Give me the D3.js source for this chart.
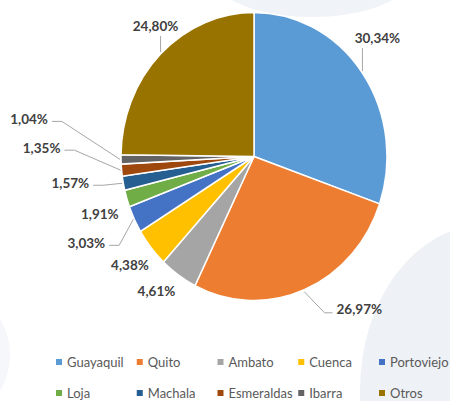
<!DOCTYPE html>
<html>
<head>
<meta charset="utf-8">
<script src="https://cdn.jsdelivr.net/npm/d3@7"></script>
<style>
  body { margin: 0; background: #fff; }
  svg { display: block; font-family: Lato, "Open Sans", sans-serif; }
</style>
</head>
<body>
<svg id="chart" width="450" height="401"></svg>
<script>
// chart data
const cities = ["Guayaquil", "Quito", "Ambato", "Cuenca", "Portoviejo",
                "Loja", "Machala", "Esmeraldas", "Ibarra", "Otros"];
const shares = [30.34, 26.97, 4.61, 4.38, 3.03, 1.91, 1.57, 1.35, 1.04, 24.80];
const labels = ["30,34%", "26,97%", "4,61%", "4,38%", "3,03%",
                "1,91%", "1,57%", "1,35%", "1,04%", "24,80%"];
const colors = ["#5B9BD5", "#ED7D31", "#A5A5A5", "#FFC000", "#4472C4",
                "#70AD47", "#255E91", "#9E480E", "#636363", "#997300"];

// label placement (offset from slice edge) and leader style
const labelOffsets = [[15, -35], [55, 19], [-22, 16], [-21, 17], [-48, 24],
                      [-27, 15], [-53, 0], [-80, -22], [-92, -40], [-5, -28]];
const leaderType = ["up", "right", null, null, "left", null, "left", "left", "left", "up"];

const svg = d3.select("#chart");

// faint background shapes
svg.append("ellipse").attr("cx", 312).attr("cy", -25).attr("rx", 100).attr("ry", 42)
  .attr("fill", "#f0f3f8");
svg.append("ellipse").attr("cx", 485).attr("cy", 390).attr("rx", 125).attr("ry", 165)
  .attr("fill", "#eef1f6");
svg.append("circle").attr("cx", -60).attr("cy", 355).attr("r", 70)
  .attr("fill", "#f6f7fa");

const cx = 254, cy = 156.5, r = 133, sy = 144 / 133;

const pie = d3.pie().sort(null).value(d => d);
const arcs = pie(shares);
const arc = d3.arc().innerRadius(0).outerRadius(r);
const edge = d3.arc().innerRadius(r).outerRadius(r);

const g = svg.append("g").attr("transform", `translate(${cx},${cy}) scale(1,${sy})`);
g.selectAll("path.slice")
  .data(arcs)
  .join("path")
  .attr("class", "slice")
  .attr("d", arc)
  .attr("fill", (d, i) => colors[i])
  .attr("stroke", "#fff")
  .attr("stroke-width", 1.5)
  .attr("vector-effect", "non-scaling-stroke");

// labels
const lab = svg.append("g");
arcs.forEach((d, i) => {
  const c = edge.centroid(d);
  const ex = cx + c[0], ey = cy + c[1] * sy;
  const lx = ex + labelOffsets[i][0], ly = ey + labelOffsets[i][1];
  const t = lab.append("text")
    .attr("x", lx).attr("y", ly)
    .attr("text-anchor", "middle")
    .attr("dominant-baseline", "central")
    .attr("font-size", 13.5)
    .attr("font-weight", "bold")
    .attr("fill", "#404040")
    .text(labels[i]);
  const w = t.node().getComputedTextLength();
  let pts = null;
  if (leaderType[i] === "left") {
    const endX = lx + w / 2 + 4;
    pts = [[ex - 1, ey], [endX + 10, ly + 2], [endX, ly + 2]];
  } else if (leaderType[i] === "right") {
    const endX = lx - w / 2 - 4;
    pts = [[ex, ey + 2], [endX - 8, ly + 4], [endX, ly + 4]];
  } else if (leaderType[i] === "up") {
    pts = [[ex, ey - 2], [ex, ly + 10]];
  }
  if (pts) {
    lab.insert("path", "text")
      .attr("d", d3.line()(pts))
      .attr("fill", "none")
      .attr("stroke", "#a6a6a6")
      .attr("stroke-width", 1);
  }
});

// legend
const legX = d3.scalePoint().domain(d3.range(5)).range([59, 382]);
const legY = d3.scalePoint().domain([0, 1]).range([362, 393]);
const leg = svg.append("g").selectAll("g")
  .data(cities)
  .join("g")
  .attr("transform", (d, i) => `translate(${legX(i % 5)},${legY(Math.floor(i / 5))})`);
leg.append("rect").attr("x", -3).attr("y", -3).attr("width", 6).attr("height", 6)
  .attr("fill", (d, i) => colors[i]);
leg.append("text").attr("x", 8).attr("y", 0)
  .attr("dominant-baseline", "central")
  .attr("font-size", 13)
  .attr("fill", "#595959")
  .text(d => d);
</script>
</body>
</html>
